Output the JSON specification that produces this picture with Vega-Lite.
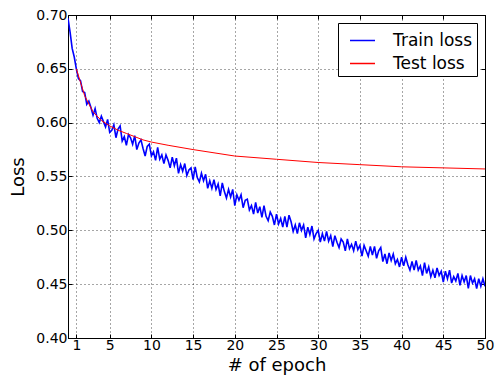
{
"$schema": "https://vega.github.io/schema/vega-lite/v6.json",
"width": 417,
"height": 323,
"autosize": "none",
"padding": {"left": 68, "top": 15, "right": 12, "bottom": 45},
"background": "white",
"config": {
  "font": "DejaVu Sans",
  "view": {"stroke": "black", "strokeWidth": 1},
  "axis": {
    "domainColor": "black", "tickColor": "black", "tickSize": -4, "tickWidth": 1,
    "labelColor": "black", "labelFontSize": 14, "labelFont": "DejaVu Sans",
    "titleFont": "DejaVu Sans", "titleFontSize": 18, "titleFontWeight": "normal", "titleColor": "black",
    "gridColor": "black", "gridDash": [1, 3], "gridOpacity": 0.7, "gridWidth": 1
  }
},
"datasets": {
  "train": [
{"epoch":0,"loss":0.697},{"epoch":0.25,"loss":0.684},{"epoch":0.5,"loss":0.669},{"epoch":0.75,"loss":0.661},
{"epoch":1,"loss":0.650},{"epoch":1.25,"loss":0.641},{"epoch":1.5,"loss":0.639},{"epoch":1.75,"loss":0.629},
{"epoch":2,"loss":0.628},{"epoch":2.25,"loss":0.617},{"epoch":2.5,"loss":0.620},{"epoch":2.75,"loss":0.614},
{"epoch":3,"loss":0.607},{"epoch":3.25,"loss":0.613},{"epoch":3.5,"loss":0.604},{"epoch":3.75,"loss":0.600},
{"epoch":4,"loss":0.606},{"epoch":4.25,"loss":0.601},{"epoch":4.5,"loss":0.596},{"epoch":4.75,"loss":0.603},
{"epoch":5,"loss":0.591},{"epoch":5.25,"loss":0.593},{"epoch":5.5,"loss":0.598},{"epoch":5.75,"loss":0.586},
{"epoch":6,"loss":0.594},{"epoch":6.25,"loss":0.597},{"epoch":6.5,"loss":0.583},{"epoch":6.75,"loss":0.587},
{"epoch":7,"loss":0.579},{"epoch":7.25,"loss":0.589},{"epoch":7.5,"loss":0.586},{"epoch":7.75,"loss":0.580},
{"epoch":8,"loss":0.588},{"epoch":8.25,"loss":0.575},{"epoch":8.5,"loss":0.581},{"epoch":8.75,"loss":0.584},
{"epoch":9,"loss":0.576},{"epoch":9.25,"loss":0.569},{"epoch":9.5,"loss":0.578},{"epoch":9.75,"loss":0.580},
{"epoch":10,"loss":0.569},{"epoch":10.25,"loss":0.573},{"epoch":10.5,"loss":0.565},{"epoch":10.75,"loss":0.577},
{"epoch":11,"loss":0.566},{"epoch":11.25,"loss":0.570},{"epoch":11.5,"loss":0.562},{"epoch":11.75,"loss":0.570},
{"epoch":12,"loss":0.565},{"epoch":12.25,"loss":0.558},{"epoch":12.5,"loss":0.568},{"epoch":12.75,"loss":0.560},
{"epoch":13,"loss":0.567},{"epoch":13.25,"loss":0.553},{"epoch":13.5,"loss":0.561},{"epoch":13.75,"loss":0.555},
{"epoch":14,"loss":0.562},{"epoch":14.25,"loss":0.551},{"epoch":14.5,"loss":0.556},{"epoch":14.75,"loss":0.558},
{"epoch":15,"loss":0.547},{"epoch":15.25,"loss":0.559},{"epoch":15.5,"loss":0.549},{"epoch":15.75,"loss":0.545},
{"epoch":16,"loss":0.553},{"epoch":16.25,"loss":0.546},{"epoch":16.5,"loss":0.552},{"epoch":16.75,"loss":0.539},
{"epoch":17,"loss":0.546},{"epoch":17.25,"loss":0.539},{"epoch":17.5,"loss":0.547},{"epoch":17.75,"loss":0.538},
{"epoch":18,"loss":0.543},{"epoch":18.25,"loss":0.532},{"epoch":18.5,"loss":0.544},{"epoch":18.75,"loss":0.536},
{"epoch":19,"loss":0.530},{"epoch":19.25,"loss":0.538},{"epoch":19.5,"loss":0.531},{"epoch":19.75,"loss":0.538},
{"epoch":20,"loss":0.523},{"epoch":20.25,"loss":0.533},{"epoch":20.5,"loss":0.528},{"epoch":20.75,"loss":0.533},
{"epoch":21,"loss":0.521},{"epoch":21.25,"loss":0.528},{"epoch":21.5,"loss":0.529},{"epoch":21.75,"loss":0.519},
{"epoch":22,"loss":0.523},{"epoch":22.25,"loss":0.515},{"epoch":22.5,"loss":0.526},{"epoch":22.75,"loss":0.516},
{"epoch":23,"loss":0.522},{"epoch":23.25,"loss":0.512},{"epoch":23.5,"loss":0.523},{"epoch":23.75,"loss":0.513},
{"epoch":24,"loss":0.509},{"epoch":24.25,"loss":0.517},{"epoch":24.5,"loss":0.513},{"epoch":24.75,"loss":0.505},
{"epoch":25,"loss":0.515},{"epoch":25.25,"loss":0.506},{"epoch":25.5,"loss":0.511},{"epoch":25.75,"loss":0.503},
{"epoch":26,"loss":0.513},{"epoch":26.25,"loss":0.503},{"epoch":26.5,"loss":0.514},{"epoch":26.75,"loss":0.508},
{"epoch":27,"loss":0.499},{"epoch":27.25,"loss":0.505},{"epoch":27.5,"loss":0.497},{"epoch":27.75,"loss":0.507},
{"epoch":28,"loss":0.500},{"epoch":28.25,"loss":0.505},{"epoch":28.5,"loss":0.493},{"epoch":28.75,"loss":0.503},
{"epoch":29,"loss":0.496},{"epoch":29.25,"loss":0.504},{"epoch":29.5,"loss":0.492},{"epoch":29.75,"loss":0.497},
{"epoch":30,"loss":0.500},{"epoch":30.25,"loss":0.489},{"epoch":30.5,"loss":0.497},{"epoch":30.75,"loss":0.490},
{"epoch":31,"loss":0.499},{"epoch":31.25,"loss":0.490},{"epoch":31.5,"loss":0.495},{"epoch":31.75,"loss":0.485},
{"epoch":32,"loss":0.495},{"epoch":32.25,"loss":0.489},{"epoch":32.5,"loss":0.484},{"epoch":32.75,"loss":0.492},
{"epoch":33,"loss":0.489},{"epoch":33.25,"loss":0.481},{"epoch":33.5,"loss":0.492},{"epoch":33.75,"loss":0.483},
{"epoch":34,"loss":0.487},{"epoch":34.25,"loss":0.481},{"epoch":34.5,"loss":0.490},{"epoch":34.75,"loss":0.482},
{"epoch":35,"loss":0.486},{"epoch":35.25,"loss":0.476},{"epoch":35.5,"loss":0.486},{"epoch":35.75,"loss":0.481},
{"epoch":36,"loss":0.476},{"epoch":36.25,"loss":0.485},{"epoch":36.5,"loss":0.477},{"epoch":36.75,"loss":0.485},
{"epoch":37,"loss":0.474},{"epoch":37.25,"loss":0.481},{"epoch":37.5,"loss":0.484},{"epoch":37.75,"loss":0.471},
{"epoch":38,"loss":0.478},{"epoch":38.25,"loss":0.469},{"epoch":38.5,"loss":0.479},{"epoch":38.75,"loss":0.472},
{"epoch":39,"loss":0.478},{"epoch":39.25,"loss":0.469},{"epoch":39.5,"loss":0.473},{"epoch":39.75,"loss":0.466},
{"epoch":40,"loss":0.475},{"epoch":40.25,"loss":0.467},{"epoch":40.5,"loss":0.475},{"epoch":40.75,"loss":0.468},
{"epoch":41,"loss":0.463},{"epoch":41.25,"loss":0.471},{"epoch":41.5,"loss":0.463},{"epoch":41.75,"loss":0.472},
{"epoch":42,"loss":0.463},{"epoch":42.25,"loss":0.467},{"epoch":42.5,"loss":0.458},{"epoch":42.75,"loss":0.470},
{"epoch":43,"loss":0.460},{"epoch":43.25,"loss":0.466},{"epoch":43.5,"loss":0.457},{"epoch":43.75,"loss":0.463},
{"epoch":44,"loss":0.456},{"epoch":44.25,"loss":0.465},{"epoch":44.5,"loss":0.458},{"epoch":44.75,"loss":0.462},
{"epoch":45,"loss":0.452},{"epoch":45.25,"loss":0.462},{"epoch":45.5,"loss":0.455},{"epoch":45.75,"loss":0.463},
{"epoch":46,"loss":0.451},{"epoch":46.25,"loss":0.457},{"epoch":46.5,"loss":0.453},{"epoch":46.75,"loss":0.460},
{"epoch":47,"loss":0.449},{"epoch":47.25,"loss":0.458},{"epoch":47.5,"loss":0.452},{"epoch":47.75,"loss":0.458},
{"epoch":48,"loss":0.446},{"epoch":48.25,"loss":0.458},{"epoch":48.5,"loss":0.451},{"epoch":48.75,"loss":0.455},
{"epoch":49,"loss":0.446},{"epoch":49.25,"loss":0.455},{"epoch":49.5,"loss":0.448},{"epoch":49.75,"loss":0.455},
{"epoch":50,"loss":0.448}
  ],
  "test": [
{"epoch":1,"loss":0.650},{"epoch":2,"loss":0.625},{"epoch":3,"loss":0.610},{"epoch":4,"loss":0.602},
{"epoch":5,"loss":0.597},{"epoch":6,"loss":0.593},{"epoch":7,"loss":0.590},{"epoch":8,"loss":0.587},
{"epoch":9,"loss":0.584},{"epoch":10,"loss":0.582},{"epoch":12,"loss":0.579},{"epoch":15,"loss":0.575},
{"epoch":20,"loss":0.569},{"epoch":25,"loss":0.566},{"epoch":30,"loss":0.563},{"epoch":35,"loss":0.561},
{"epoch":40,"loss":0.559},{"epoch":45,"loss":0.558},{"epoch":50,"loss":0.557}
  ]
},
"layer": [
  {
    "data": {"name": "train"},
    "mark": {"type": "line", "strokeWidth": 1.6, "clip": true},
    "encoding": {
      "x": {"field": "epoch", "type": "quantitative",
            "scale": {"domain": [0, 50], "nice": false, "zero": false},
            "axis": {"orient": "bottom", "values": [1,5,10,15,20,25,30,35,40,45,50], "title": "# of epoch",
                     "grid": true, "labelPadding": 4, "titlePadding": 4, "labelFlush": false}},
      "y": {"field": "loss", "type": "quantitative",
            "scale": {"domain": [0.4, 0.7], "nice": false, "zero": false},
            "axis": {"orient": "left", "values": [0.4,0.45,0.5,0.55,0.6,0.65,0.7], "format": ".2f", "title": "Loss",
                     "grid": true, "labelPadding": 5, "titlePadding": 8, "labelFlush": false}},
      "color": {"datum": "Train loss", "type": "nominal",
                "scale": {"domain": ["Train loss", "Test loss"], "range": ["#0000ff", "#ff0000"]},
                "legend": {"title": null, "orient": "top-right", "offset": 8,
                           "strokeColor": "black", "fillColor": "white", "padding": 4, "cornerRadius": 0,
                           "symbolType": "stroke", "symbolSize": 625, "symbolStrokeWidth": 1.5, "symbolOffset": 7,
                           "labelFontSize": 17, "labelOffset": 17, "labelColor": "black", "rowPadding": 1}}
    }
  },
  {
    "data": {"name": "test"},
    "mark": {"type": "line", "strokeWidth": 1, "clip": true},
    "encoding": {
      "x": {"field": "epoch", "type": "quantitative",
            "axis": {"orient": "top", "values": [1,5,10,15,20,25,30,35,40,45,50], "title": null, "labels": false, "grid": false}},
      "y": {"field": "loss", "type": "quantitative",
            "axis": {"orient": "right", "values": [0.4,0.45,0.5,0.55,0.6,0.65,0.7], "title": null, "labels": false, "grid": false}},
      "color": {"datum": "Test loss", "type": "nominal"}
    }
  }
],
"resolve": {"axis": {"x": "independent", "y": "independent"}}
}
